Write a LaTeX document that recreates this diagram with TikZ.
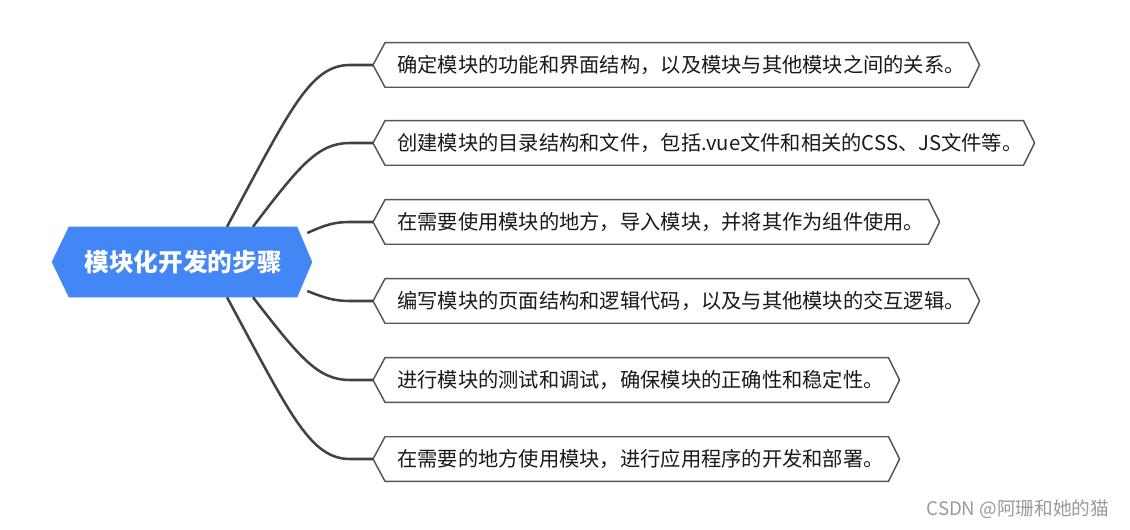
\documentclass[tikz,border=0pt]{standalone}
\usepackage{fontspec}
\setmainfont{Noto Sans CJK SC}
\usetikzlibrary{calc,backgrounds}
\definecolor{hexblue}{HTML}{4287F5}
\definecolor{conn}{HTML}{424242}
\definecolor{boxline}{HTML}{555555}
\definecolor{wm}{HTML}{9A9A9A}
\tikzset{
  stepbox/.style={anchor=west, inner xsep=9pt, inner ysep=0pt, minimum height=33pt,
    align=left, font=\fontsize{15.2pt}{18pt}\selectfont, text=black!90},
  outline/.style={draw=boxline, line width=1.1pt, line join=miter},
  connector/.style={draw=conn, line width=1.9pt},
}
\begin{document}
\begin{tikzpicture}[x=0.75pt,y=-0.75pt]
\useasboundingbox (0,0) rectangle (1130,530);
% central node
\node[minimum width=171pt, minimum height=52.5pt, inner sep=0pt, text=white,
      font=\fontsize{18.5pt}{22pt}\selectfont\bfseries] (c) at (183,262) {模块化开发的步骤};
\begin{pgfonlayer}{background}
\fill[hexblue] (c.north west) -- (c.north east) -- ([xshift=11.25pt]c.east) -- (c.south east)
  -- (c.south west) -- ([xshift=-12.75pt]c.west) -- cycle;
\end{pgfonlayer}
% step boxes
\node[stepbox, text width=419.25pt] (b1) at (385,65) {确定模块的功能和界面结构，以及模块与其他模块之间的关系。};
\node[stepbox, text width=460.5pt] (b2) at (385,143) {创建模块的目录结构和文件，包括.vue文件和相关的CSS、JS文件等。};
\node[stepbox, text width=389.25pt] (b3) at (385,222) {在需要使用模块的地方，导入模块，并将其作为组件使用。};
\node[stepbox, text width=419.25pt] (b4) at (385,301) {编写模块的页面结构和逻辑代码，以及与其他模块的交互逻辑。};
\node[stepbox, text width=359.25pt] (b5) at (385,380) {进行模块的测试和调试，确保模块的正确性和稳定性。};
\node[stepbox, text width=359.25pt] (b6) at (385,459) {在需要的地方使用模块，进行应用程序的开发和部署。};
\foreach \b in {b1,b2,b3,b4,b5,b6}{
  \draw[outline] (\b.north west) -- (\b.north east) -- ([xshift=8.25pt]\b.east) -- (\b.south east)
    -- (\b.south west) -- ([xshift=-9pt]\b.west) -- cycle;
  \coordinate (\b t) at ([xshift=-9pt]\b.west);
}
% connector start points
\coordinate (s1) at ([xshift=33pt]c.north);
\coordinate (s2) at ([xshift=52.5pt]c.north);
\coordinate (s3) at ([xshift=7.5pt,yshift=21.75pt]c.east);
\coordinate (s4) at ([xshift=7.5pt,yshift=-21.75pt]c.east);
\coordinate (s5) at ([xshift=52.5pt]c.south);
\coordinate (s6) at ([xshift=33pt]c.south);
\draw[connector] (s1) .. controls (290,110) and (310,65) .. (350,65) -- (b1t);
\draw[connector] (s2) .. controls (300,165) and (318,143) .. (350,143) -- (b2t);
\draw[connector] (s3) .. controls (325,225) and (334,222) .. (350,222) -- (b3t);
\draw[connector] (s4) .. controls (325,298) and (334,301) .. (350,301) -- (b4t);
\draw[connector] (s5) .. controls (300,358) and (318,380) .. (350,380) -- (b5t);
\draw[connector] (s6) .. controls (290,414) and (310,459) .. (350,459) -- (b6t);
% watermark
\node[text=wm, font=\fontsize{14pt}{16pt}\selectfont, anchor=east] (wmk) at (1114,509) {CSDN @阿珊和她的猫};
\end{tikzpicture}
\end{document}
